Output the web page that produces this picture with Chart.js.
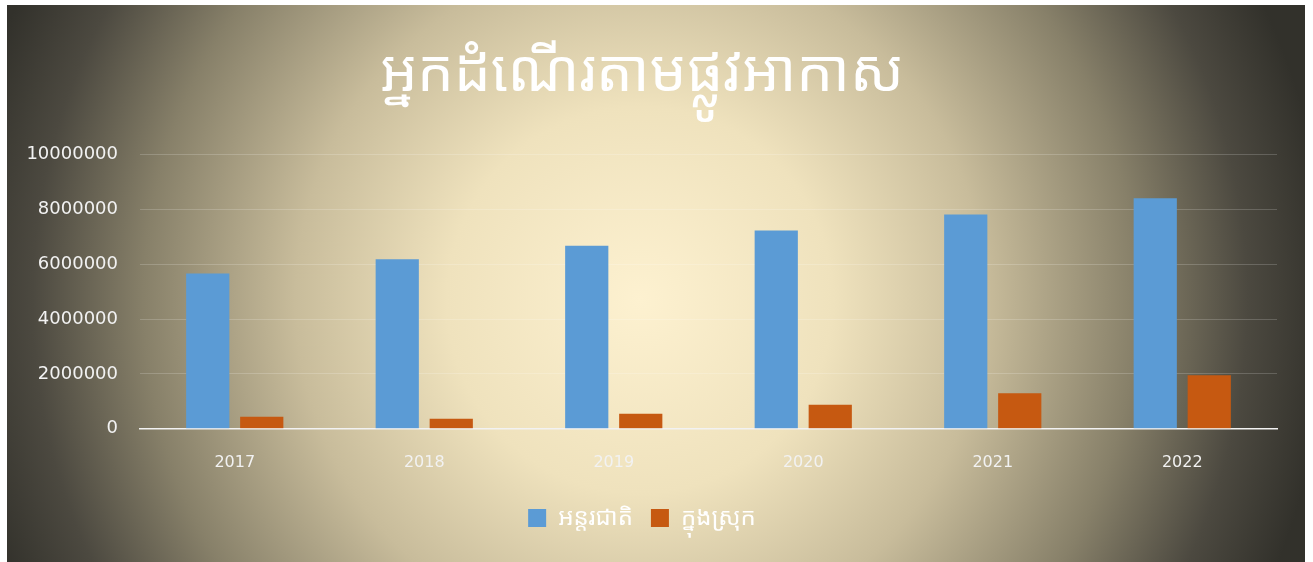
<!DOCTYPE html>
<html>
<head>
<meta charset="utf-8">
<script src="https://cdn.jsdelivr.net/npm/chart.js@4.4.1/dist/chart.umd.min.js"></script>
<style>
    html, body { margin: 0; padding: 0; background: #ffffff; }
    body { width: 1313px; height: 562px; overflow: hidden; position: relative; }
    #wrap { position: absolute; left: 7px; top: 5px; width: 1298px; height: 557px; }
</style>
</head>
<body>
<div id="wrap"><canvas id="myChart" width="1298" height="557"></canvas></div>
<script>
// labels and dataset arrays
const years = ["2017", "2018", "2019", "2020", "2021", "2022"];
const international = [5660000, 6180000, 6680000, 7230000, 7820000, 8410000];
const domestic = [440000, 370000, 550000, 880000, 1300000, 1950000];
const yTicks = [0, 2000000, 4000000, 6000000, 8000000, 10000000];

const titleText = "អ្នកដំណើរតាមផ្លូវអាកាស";
const seriesNames = ["អន្តរជាតិ", "ក្នុងស្រុក"];

const khmerFont = '"Noto Sans Khmer", "Khmer OS", "Noto Sans", "DejaVu Sans", sans-serif';
const tickFont = '"DejaVu Sans", sans-serif';

// background plugin - radial gradient like the office chart
const bgPlugin = {
    id: 'bg',
    beforeDraw(chart) {
        const c = chart.ctx;
        const w = chart.width, h = chart.height;
        const g = c.createRadialGradient(633, 295, 0, 633, 295, 690);
        g.addColorStop(0, '#fdf1d0');
        g.addColorStop(0.28, '#efe2bd');
        g.addColorStop(0.5, '#c8bc9b');
        g.addColorStop(0.72, '#878069');
        g.addColorStop(0.88, '#4c4940');
        g.addColorStop(1, '#32312b');
        c.save();
        c.fillStyle = g;
        c.fillRect(0, 0, w, h);
        c.restore();
    }
};

const config = {
    type: 'bar',
    data: {
        labels: years,
        datasets: [
            {
                label: seriesNames[0],
                data: international,
                backgroundColor: '#5b9bd5',
                categoryPercentage: 0.57,
                barPercentage: 0.8
            },
            {
                label: seriesNames[1],
                data: domestic,
                backgroundColor: '#c65911',
                categoryPercentage: 0.57,
                barPercentage: 0.8
            }
        ]
    },
    options: {
        responsive: false,
        animation: false,
        devicePixelRatio: 1,
        layout: {
            padding: { left: 0, right: 28, top: 35, bottom: 22 }
        },
        scales: {
            x: {
                grid: { display: false },
                border: { display: true, color: '#f2f2f2', width: 1.5 },
                ticks: {
                    color: '#f2f2f2',
                    padding: 16,
                    font: { family: tickFont, size: 16 }
                }
            },
            y: {
                min: 0,
                max: 10000000,
                afterBuildTicks(axis) {
                    axis.ticks = yTicks.map(v => ({ value: v }));
                },
                afterFit(axis) {
                    axis.width = 133;
                },
                grid: {
                    color: 'rgba(255,255,255,0.18)',
                    drawTicks: false
                },
                border: { display: false },
                ticks: {
                    color: '#f2f2f2',
                    padding: 22,
                    font: { family: tickFont, size: 18 },
                    callback: v => String(v)
                }
            }
        },
        plugins: {
            title: {
                display: true,
                text: titleText,
                color: '#ffffff',
                padding: { top: 0, bottom: 45 },
                font: { family: khmerFont, size: 58, weight: 'normal' }
            },
            legend: {
                position: 'bottom',
                labels: {
                    color: '#ffffff',
                    boxWidth: 18,
                    boxHeight: 18,
                    padding: 18,
                    font: { family: khmerFont, size: 24 }
                }
            },
            tooltip: { enabled: false }
        }
    },
    plugins: [bgPlugin]
};

const myChart = new Chart(document.getElementById('myChart'), config);
</script>
</body>
</html>
